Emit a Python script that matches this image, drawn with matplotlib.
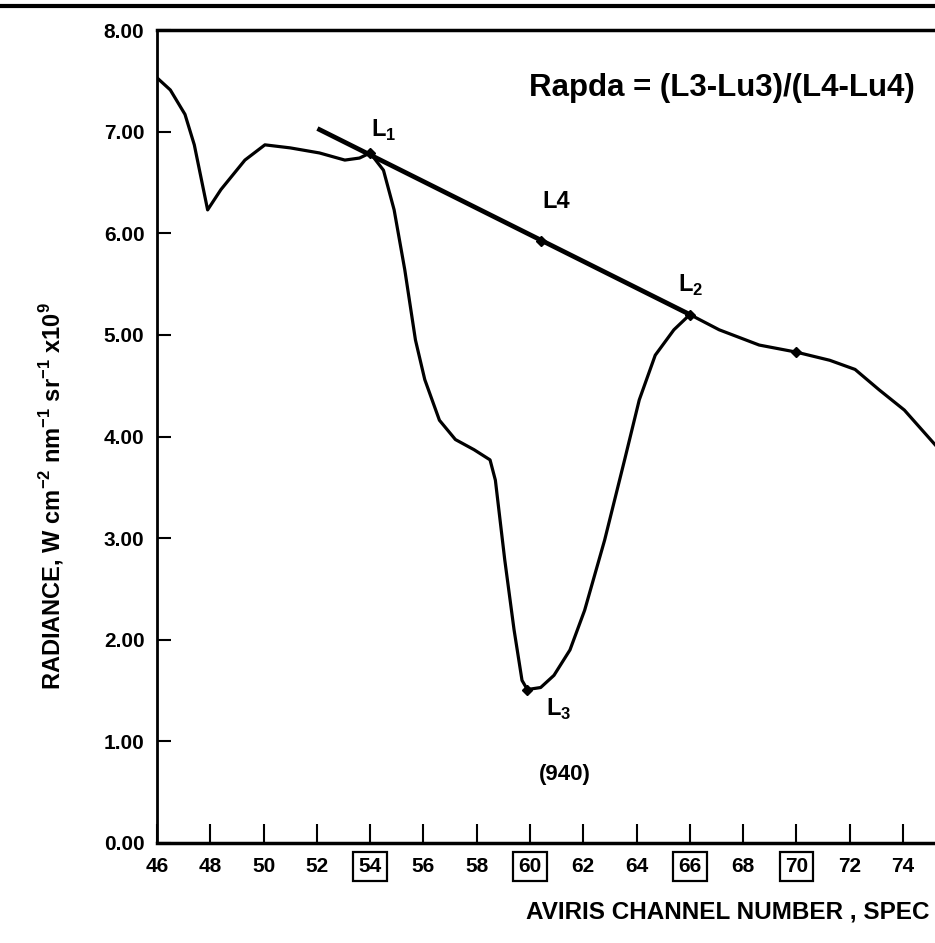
import numpy as np
import matplotlib.pyplot as plt
from matplotlib.lines import Line2D

plt.rcParams['font.family'] = ['Liberation Sans', 'DejaVu Sans']
plt.rcParams['mathtext.fontset'] = 'custom'
plt.rcParams['mathtext.rm'] = 'Liberation Sans:bold'
plt.rcParams['mathtext.bf'] = 'Liberation Sans:bold'

# radiance spectrum (channel, radiance)
channel = [46.0, 46.5, 47.05, 47.4, 47.9, 48.4, 49.3, 50.05, 51.0, 52.1, 53.05,
           53.6, 54.0, 54.5, 54.9, 55.3, 55.7, 56.05, 56.6, 57.2, 57.9, 58.5,
           58.7, 59.05, 59.4, 59.7, 59.9, 60.4, 60.9, 61.5, 62.05, 62.8, 63.55,
           64.1, 64.7, 65.4, 66.0, 67.1, 68.6, 70.0, 71.25, 72.2, 73.1, 74.05, 75.2]
radiance = [7.53, 7.41, 7.17, 6.87, 6.23, 6.43, 6.72, 6.87, 6.84, 6.79, 6.72,
            6.74, 6.79, 6.62, 6.23, 5.64, 4.95, 4.56, 4.16, 3.97, 3.87, 3.77,
            3.57, 2.79, 2.10, 1.60, 1.51, 1.53, 1.65, 1.90, 2.29, 2.98, 3.77,
            4.36, 4.80, 5.05, 5.20, 5.05, 4.90, 4.83, 4.75, 4.66, 4.46, 4.26, 3.92]

# continuum line through shoulders
cont_x = [52.1, 66.0]
cont_y = [7.02, 5.20]

# marked points
pts_x = [54.0, 60.4, 66.0, 70.0, 59.9]
pts_y = [6.79, 5.92, 5.20, 4.83, 1.51]

xticks = list(range(46, 76, 2))
boxed = [54, 60, 66, 70]
yticks = list(range(0, 9))

fig = plt.figure(figsize=(9.35, 9.43), dpi=100)
ax = fig.add_axes([157/935, 100/943, 1 - 157/935, 813/943])

ax.plot(channel, radiance, color='black', lw=2.3)
ax.plot(cont_x, cont_y, color='black', lw=3.4)
ax.plot(pts_x, pts_y, 'D', color='black', ms=5)

ax.set_xlim(46, 75.2)
ax.set_ylim(0, 8)
ax.set_xticks(xticks)
ax.set_yticks(yticks)
ax.set_yticklabels(['%.2f' % v for v in yticks])
ax.tick_params(axis='x', direction='in', length=14, width=1.5, pad=10, labelsize=15)
ax.tick_params(axis='y', direction='in', length=10, width=1.5, pad=9, labelsize=15)
for lab in ax.get_xticklabels() + ax.get_yticklabels():
    lab.set_fontweight('bold')
for lab, v in zip(ax.get_xticklabels(), xticks):
    if v in boxed:
        lab.set_bbox(dict(facecolor='none', edgecolor='black', lw=1.6,
                          boxstyle='square,pad=0.25'))

ax.spines['right'].set_visible(False)
ax.spines['top'].set_linewidth(2.5)
ax.spines['bottom'].set_linewidth(2.5)
ax.spines['left'].set_linewidth(2)

ax.text(54.02, 6.95, 'L$_1$', fontsize=17, fontweight='bold')
ax.text(60.45, 6.25, 'L4', fontsize=17, fontweight='bold')
ax.text(65.55, 5.42, 'L$_2$', fontsize=17, fontweight='bold')
ax.text(60.6, 1.25, 'L$_3$', fontsize=17, fontweight='bold')
ax.text(61.3, 0.62, '(940)', fontsize=16, fontweight='bold', ha='center')
ax.text(59.95, 7.35, 'Rapda = (L3-Lu3)/(L4-Lu4)', fontsize=22.5, fontweight='bold')

fig.text(930/935, 1 - 912/943, 'AVIRIS CHANNEL NUMBER , SPEC', fontsize=17.5,
         fontweight='bold', va='center', ha='right')
fig.text(52/935, 1 - 496/943,
         r'RADIANCE, W cm$^{-2}$ nm$^{-1}$ sr$^{-1}$ x10$^{9}$',
         fontsize=17, fontweight='bold', rotation=90, ha='center', va='center')

fig.add_artist(Line2D([0, 1], [1 - 6/943, 1 - 6/943], transform=fig.transFigure,
                      color='black', lw=3))

fig.savefig('out.png', dpi=100)
